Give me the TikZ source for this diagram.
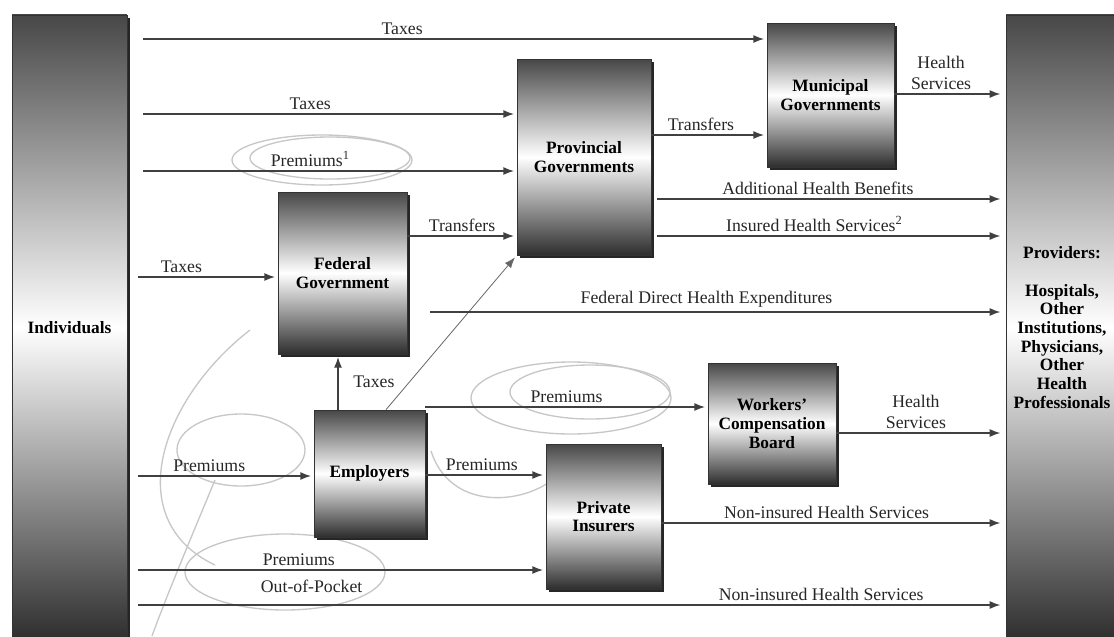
\documentclass[tikz,border=0pt]{standalone}
\usepackage{fontspec}
\setmainfont{Liberation Serif}
\usetikzlibrary{arrows.meta,shadows}

\begin{document}
\begin{tikzpicture}[x=0.75pt, y=-0.75pt,
   box/.style={draw=black!80, line width=0.5pt,
      top color=black!72, bottom color=black!82, middle color=white,
      drop shadow={shadow xshift=2pt, shadow yshift=-2pt, fill=black!85, opacity=1},
      font=\fontsize{13}{14}\selectfont\bfseries, align=center, inner sep=0pt},
   flow/.style={draw=black!75, line width=1pt, -{Latex[length=8pt,width=6pt]}, shorten >=2pt},
   toprov/.style={shorten >=4pt},
   lbl/.style={font=\fontsize{13.3}{15.5}\selectfont, text=black!85, above, inner sep=3pt, align=center},
   scrib/.style={draw=black!22, line width=1pt}]

\useasboundingbox (0,0) rectangle (1114,636);

% pencil marks
\draw[scrib] (322,160) ellipse (90 and 25);
\draw[scrib] (330,158) ellipse (80 and 21);
\draw[scrib] (571,398) ellipse (100 and 36);
\draw[scrib] (590,392) ellipse (80 and 27);
\draw[scrib] (241,450) ellipse (64 and 36);
\draw[scrib] (285,572) ellipse (100 and 38);
\draw[scrib] (431,451) .. controls (450,510) and (520,505) .. (552,480);
\draw[scrib] (250,330) .. controls (160,400) and (120,520) .. (215,565);
\draw[scrib] (215,480) .. controls (190,540) and (165,600) .. (152,636);

% columns
\node[box, minimum width=86pt, minimum height=469pt] (ind) at (69.5,327.5) {Individuals};
\node[box, minimum width=84pt, minimum height=469pt] (prov) at (1062,327.5)
   {Providers:\\[14pt]Hospitals,\\Other\\Institutions,\\Physicians,\\Other\\Health\\Professionals};

% payers
\node[box, minimum width=100.5pt, minimum height=147pt] (pgov) at (584,157) {Provincial\\Governments};
\node[box, minimum width=95.25pt, minimum height=108pt] (mgov) at (830.5,95) {Municipal\\Governments};
\node[box, minimum width=96.75pt, minimum height=121.5pt] (fgov) at (342.5,273) {Federal\\Government};
\node[box, minimum width=83.25pt, minimum height=95.25pt] (emp) at (369.5,473.5) {Employers};
\node[box, minimum width=86.25pt, minimum height=108.75pt] (pins) at (603.5,516.5) {Private\\Insurers};
\node[box, minimum width=96pt, minimum height=90.75pt] (wcb) at (772,423.5) {Workers'\\Compensation\\Board};

% flows out of individuals
\draw[flow, shorten <=12pt] (ind.east |- 0,39) -- (mgov.west |- 0,39) node[lbl, pos=.43] {Taxes};
\draw[flow, shorten <=12pt] (ind.east |- 0,114) -- (pgov.west |- 0,114) node[lbl, pos=.47] {Taxes};
\draw[flow, shorten <=12pt] (ind.east |- 0,171) -- (pgov.west |- 0,171) node[lbl, pos=.47] {Premiums\textsuperscript{1}};
\draw[flow, shorten <=8pt] (ind.east |- 0,277) -- (fgov.west |- 0,277) node[lbl, pos=.36] {Taxes};
\draw[flow, shorten <=8pt] (ind.east |- 0,476) -- (emp.west |- 0,476) node[lbl, pos=.44] {Premiums};
\draw[flow, shorten <=8pt] (ind.east |- 0,570) -- (pins.west |- 0,570) node[lbl, pos=.41] {Premiums};
\draw[flow, toprov, shorten <=8pt] (ind.east |- 0,605) -- (prov.west |- 0,605)
   node[lbl, pos=.21, yshift=6pt] {Out-of-Pocket}
   node[lbl, pos=.79] {Non-insured Health Services};

% government transfers
\draw[flow] (fgov.east |- 0,236) -- (pgov.west |- 0,236) node[lbl, pos=.5] {Transfers};
\draw[flow] (pgov.east |- 0,135) -- (mgov.west |- 0,135) node[lbl, pos=.43] {Transfers};

% employers
\draw[flow] (emp.north -| 338,0) -- (fgov.south -| 338,0) node[lbl, right=8pt, pos=.5] {Taxes};
\draw[flow, line width=.6pt, draw=black!60] (emp.north -| 386,0) -- (pgov.south west);
\draw[flow] (emp.north east |- 0,407) -- (wcb.west |- 0,407) node[lbl, pos=.5] {Premiums};
\draw[flow] (emp.east |- 0,475) -- (pins.west |- 0,475) node[lbl, pos=.47] {Premiums};

% flows to providers
\draw[flow, toprov] (mgov.east |- 0,94) -- (prov.west |- 0,94) node[lbl, pos=.42] {Health\\Services};
\draw[flow, toprov, shorten <=4pt] (pgov.east |- 0,199) -- (prov.west |- 0,199) node[lbl, pos=.47] {Additional Health Benefits};
\draw[flow, toprov, shorten <=4pt] (pgov.east |- 0,236) -- (prov.west |- 0,236) node[lbl, pos=.46] {Insured Health Services\textsuperscript{2}};
\draw[flow, toprov, shorten <=17pt] (fgov.east |- 0,312) -- (prov.west |- 0,312) node[lbl, pos=.5] {Federal Direct Health Expenditures};
\draw[flow, toprov] (wcb.east |- 0,433) -- (prov.west |- 0,433) node[lbl, pos=.47] {Health\\Services};
\draw[flow, toprov] (pins.east |- 0,523) -- (prov.west |- 0,523) node[lbl, pos=.48] {Non-insured Health Services};

\end{tikzpicture}
\end{document}
